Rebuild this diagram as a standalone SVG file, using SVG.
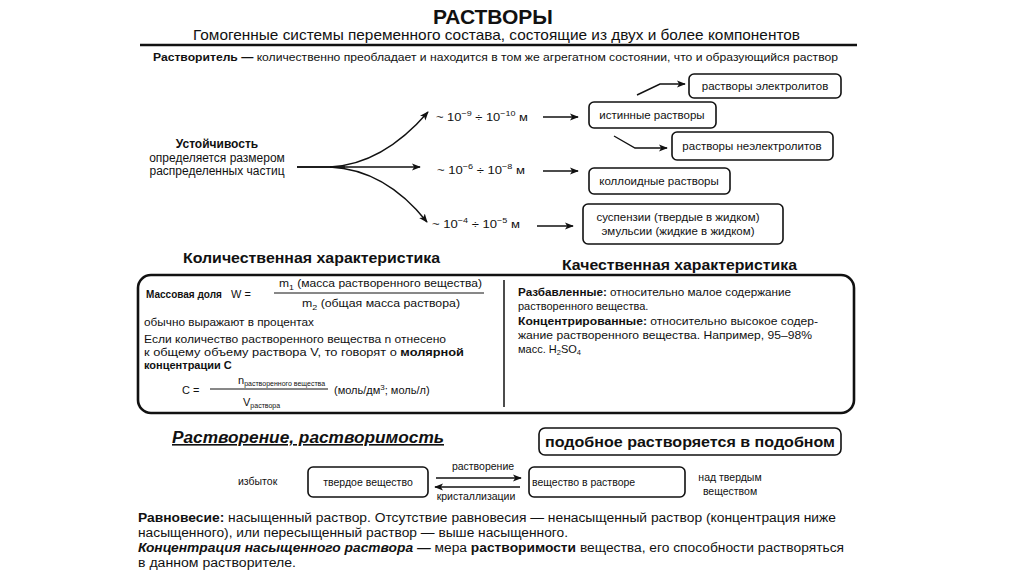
<svg xmlns="http://www.w3.org/2000/svg" width="1024" height="574" viewBox="0 0 1024 574">
<defs>
<marker id="ah" viewBox="0 0 10 10" refX="9" refY="5" markerWidth="9" markerHeight="9" markerUnits="userSpaceOnUse" orient="auto">
<path d="M0,1 L10,5 L0,9 L2.5,5 z" fill="#111"/>
</marker>
<style>
text{font-family:"Liberation Sans",Arial,sans-serif;fill:#111}
.b{font-weight:bold}
.t11{font-size:11px}
.t10{font-size:10.5px}
.bx{font-size:11.5px}
.box{fill:#fff;stroke:#111;stroke-width:1.6}
.ln{fill:none;stroke:#111;stroke-width:1.4}
.c{text-anchor:middle}
</style>
</defs>
<rect width="1024" height="574" fill="#fff"/>

<g id="header">
<text x="493" y="24" class="b c" font-size="21">РАСТВОРЫ</text>
<text x="193" y="40" font-size="15" textLength="607" lengthAdjust="spacingAndGlyphs">Гомогенные системы переменного состава, состоящие из двух и более компонентов</text>
<line x1="140" y1="45" x2="857" y2="45" stroke="#111" stroke-width="2.5"/>
<text x="153" y="61" font-size="10.5" textLength="685" lengthAdjust="spacingAndGlyphs"><tspan class="b">Растворитель —</tspan> количественно преобладает и находится в том же агрегатном состоянии, что и образующийся раствор</text>
</g>

<g id="stability">
<text x="217" y="148" class="b c" font-size="12">Устойчивость</text>
<text x="217" y="162" class="c" font-size="12">определяется размером</text>
<text x="217" y="175" class="c" font-size="12">распределенных частиц</text>
</g>

<g id="sizes">
<text x="436" y="121" font-size="11.5" textLength="92" lengthAdjust="spacingAndGlyphs">~ 10<tspan dy="-5" font-size="8">−9</tspan><tspan dy="5"> ÷ 10</tspan><tspan dy="-5" font-size="8">−10</tspan><tspan dy="5"> м</tspan></text>
<text x="437" y="174" font-size="11.5" textLength="88" lengthAdjust="spacingAndGlyphs">~ 10<tspan dy="-5" font-size="8">−6</tspan><tspan dy="5"> ÷ 10</tspan><tspan dy="-5" font-size="8">−8</tspan><tspan dy="5"> м</tspan></text>
<text x="432" y="228" font-size="11.5" textLength="88" lengthAdjust="spacingAndGlyphs">~ 10<tspan dy="-5" font-size="8">−4</tspan><tspan dy="5"> ÷ 10</tspan><tspan dy="-5" font-size="8">−5</tspan><tspan dy="5"> м</tspan></text>
</g>

<g id="n-electrolytes"><rect class="box" x="689" y="74" width="152" height="24" rx="5"/><text x="765" y="90" class="c bx">растворы электролитов</text></g>
<g id="n-true"><rect class="box" x="589" y="102" width="127" height="26" rx="5"/><text x="652" y="119" class="c bx">истинные растворы</text></g>
<g id="n-nonelectrolytes"><rect class="box" x="672" y="132" width="161" height="28" rx="5"/><text x="752" y="150" class="c bx">растворы неэлектролитов</text></g>
<g id="n-colloid"><rect class="box" x="589" y="168" width="141" height="26" rx="5"/><text x="659" y="185" class="c bx">коллоидные растворы</text></g>
<g id="n-susp"><rect class="box" x="583" y="204" width="200" height="40" rx="5"/><text x="678" y="221" class="c bx">суспензии (твердые в жидком)</text><text x="678" y="235" class="c bx">эмульсии (жидкие в жидком)</text></g>

<g id="connectors">
<path class="ln" d="M297,167 L420,167" stroke-width="1.5" marker-end="url(#ah)"/>
<path class="ln" d="M297,167 L345,167" stroke-width="3"/>
<path class="ln" d="M330,167 C370,165 402,142 428,112" stroke-width="1.5" marker-end="url(#ah)"/>
<path class="ln" d="M330,167 C372,169 404,193 427,222" stroke-width="1.5" marker-end="url(#ah)"/>
<path class="ln" d="M543,117 L578,117" marker-end="url(#ah)"/>
<path class="ln" d="M543,171 L578,171" marker-end="url(#ah)"/>
<path class="ln" d="M537,226 L573,226" marker-end="url(#ah)"/>
<path class="ln" d="M637,95 L660,84 L685,84" marker-end="url(#ah)"/>
<path class="ln" d="M614,136 L635,148 L667,148" marker-end="url(#ah)"/>
<path class="ln" d="M436,478 L521,478" marker-end="url(#ah)"/>
<path class="ln" d="M520,487 L435,487" marker-end="url(#ah)"/>
</g>

<g id="characteristics">
<text x="183" y="263" class="b" font-size="14.5" textLength="257" lengthAdjust="spacingAndGlyphs">Количественная характеристика</text>
<text x="562" y="270" class="b" font-size="14.5" textLength="235" lengthAdjust="spacingAndGlyphs">Качественная характеристика</text>
<rect x="138" y="275" width="716" height="138" rx="13" fill="none" stroke="#111" stroke-width="2.6"/>
<line x1="504" y1="280" x2="504" y2="407" stroke="#111" stroke-width="1.5"/>

<text x="146" y="298" class="b" font-size="10">Массовая доля</text>
<text x="231" y="298" class="t11">W =</text>
<text x="279" y="287" class="t11" textLength="203" lengthAdjust="spacingAndGlyphs">m<tspan dy="3" font-size="8">1</tspan><tspan dy="-3"> (масса растворенного вещества)</tspan></text>
<line x1="274" y1="293" x2="484" y2="293" stroke="#111" stroke-width="1"/>
<text x="302" y="307" class="t11" textLength="158" lengthAdjust="spacingAndGlyphs">m<tspan dy="3" font-size="8">2</tspan><tspan dy="-3">  (общая масса раствора)</tspan></text>
<text x="144" y="326" class="t11" textLength="170" lengthAdjust="spacingAndGlyphs">обычно выражают в процентах</text>
<text x="144" y="343" class="t11" textLength="302" lengthAdjust="spacingAndGlyphs">Если количество растворенного вещества n отнесено</text>
<text x="144" y="356" class="t11" textLength="320" lengthAdjust="spacingAndGlyphs">к общему объему раствора V, то говорят о    <tspan class="b">молярной</tspan></text>
<text x="144" y="369" class="b t11">концентрации С</text>
<text x="182" y="394" class="t11">С =</text>
<text x="238" y="384" class="t11">n<tspan dy="2" font-size="7">растворенного вещества</tspan></text>
<line x1="210" y1="389" x2="328" y2="389" stroke="#111" stroke-width="1"/>
<text x="243" y="406" class="t11">V<tspan dy="2" font-size="7">раствора</tspan></text>
<text x="334" y="394" class="t11">(моль/дм<tspan dy="-4" font-size="8">3</tspan><tspan dy="4">; моль/л)</tspan></text>

<text x="518" y="296" class="t11" textLength="273" lengthAdjust="spacingAndGlyphs"><tspan class="b">Разбавленные:</tspan> относительно малое содержание</text>
<text x="518" y="310" class="t11">растворенного вещества.</text>
<text x="518" y="325" class="t11" textLength="300" lengthAdjust="spacingAndGlyphs"><tspan class="b">Концентрированные:</tspan> относительно высокое содер-</text>
<text x="518" y="339" class="t11" textLength="294" lengthAdjust="spacingAndGlyphs">жание растворенного вещества. Например, 95–98%</text>
<text x="518" y="353" class="t11">масс. H<tspan dy="2" font-size="7.5">2</tspan><tspan dy="-2">SO</tspan><tspan dy="2" font-size="7.5">4</tspan></text>
</g>

<g id="dissolution">
<text x="172" y="443" class="b" font-size="16" font-style="italic" text-decoration="underline" textLength="272" lengthAdjust="spacingAndGlyphs">Растворение, растворимость</text>
</g>
<g id="n-like"><rect class="box" x="539" y="428" width="302" height="27" rx="6"/><text x="690" y="447" class="b c" font-size="14.5" textLength="290" lengthAdjust="spacingAndGlyphs">подобное растворяется в подобном</text></g>
<g id="n-excess"><text x="238" y="485" class="t10">избыток</text></g>
<g id="n-solid"><rect class="box" x="308" y="467" width="120" height="30" rx="5"/><text x="368" y="486" class="c t10">твердое вещество</text></g>
<g id="labels-eq">
<text x="483" y="470" class="c t10">растворение</text>
<text x="476" y="500" class="c t10">кристаллизации</text>
</g>
<g id="n-dissolved"><rect class="box" x="529" y="467" width="156" height="30" rx="5"/><text x="532" y="486" class="t10">вещество в растворе</text></g>
<g id="n-above"><text x="730" y="481" class="c t10">над твердым</text><text x="730" y="495" class="c t10">веществом</text></g>

<g id="footer">
<text x="138" y="522" font-size="12.5" textLength="698" lengthAdjust="spacingAndGlyphs"><tspan class="b">Равновесие:</tspan> насыщенный раствор. Отсутствие равновесия — ненасыщенный раствор (концентрация ниже</text>
<text x="138" y="537" font-size="12.5" textLength="430" lengthAdjust="spacingAndGlyphs">насыщенного), или пересыщенный раствор — выше насыщенного.</text>
<text x="138" y="552" font-size="12.5" textLength="706" lengthAdjust="spacingAndGlyphs"><tspan class="b" font-style="italic">Концентрация насыщенного раствора —</tspan> мера <tspan class="b">растворимости</tspan> вещества, его способности растворяться</text>
<text x="138" y="567" font-size="12.5" textLength="158" lengthAdjust="spacingAndGlyphs">в данном растворителе.</text>
</g>
</svg>
